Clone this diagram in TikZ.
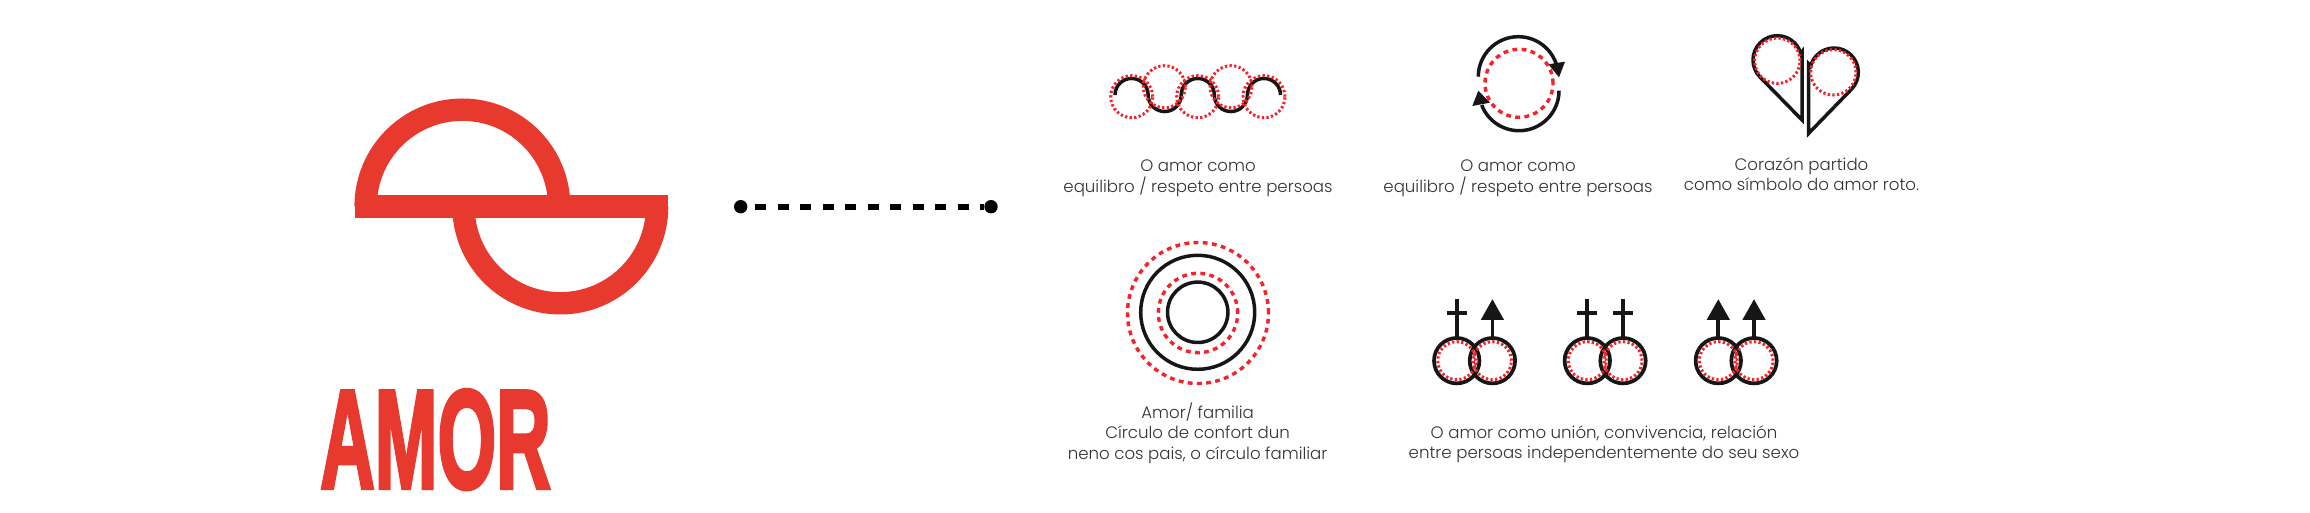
\documentclass[tikz,border=0pt]{standalone}
\usepackage{fontspec}
\setmainfont{Poppins Light}
\newfontfamily\amorfont[FakeBold=3]{Liberation Sans Bold}
\definecolor{logored}{HTML}{E8392F}
\definecolor{dotred}{HTML}{F5222A}
\definecolor{inkblack}{HTML}{161616}
\definecolor{txtgray}{HTML}{333333}
\tikzset{
  ink/.style={draw=inkblack,line width=1.75pt},
  reddots/.style={draw=dotred,line width=1.5pt,dash pattern=on 1.15pt off 1.15pt},
  reddash/.style={draw=dotred,line width=1.7pt,dash pattern=on 2.4pt off 2.2pt},
  caption/.style={text=txtgray,font=\fontsize{8.3pt}{10.2pt}\selectfont,align=center,inner sep=0pt},
  dotend/.style={circle,fill=black,minimum size=6.7pt,inner sep=0pt},
  logostroke/.style={draw=logored,line width=11.2pt},
}
\newcommand{\ringpair}[1]{%
  \draw[ink,line width=1.85pt] (#1,152.3) circle[radius=22.7];
  \draw[ink,line width=1.85pt] (#1+35.7,152.3) circle[radius=22.7];
  \draw[reddots] (#1,152.3) circle[radius=19];
  \draw[reddots] (#1+35.7,152.3) circle[radius=19];}
\newcommand{\crosssign}[1]{%
  \draw[ink,line width=1.85pt] (#1,175) -- (#1,214);
  \draw[ink,line width=1.85pt] (#1-10,200.3) -- (#1+10,200.3);}
\newcommand{\arrowsign}[1]{%
  \draw[ink,line width=1.85pt] (#1,175) -- (#1,195);
  \fill[inkblack] (#1,213.7) -- (#1-11.7,193) -- (#1+11.7,193) -- cycle;}
\begin{document}
\begin{tikzpicture}[x=0.5pt,y=0.5pt]
\useasboundingbox[fill=white] (0,0) rectangle (2310,513);
% logo
\draw[logostroke] (365.6,306.5) arc[start angle=180,end angle=0,radius=96.8];
\draw[logostroke] (463.5,306.5) arc[start angle=180,end angle=360,radius=96.8];
\fill[logored] (354.7,295.3) rectangle (668.3,317.7);
\node[inner sep=0pt,text=logored] (amor) at (435.5,73.4) {\resizebox{115.2pt}{49pt}{\amorfont AMOR}};
% connector
\node[dotend] (dotA) at (740.7,306.3) {};
\node[dotend] (dotB) at (991,306.3) {};
\draw[black,line width=3pt,dash pattern=on 5.5pt off 5.75pt,dash phase=7.45pt] (dotA) -- (dotB);
% wave icon
\draw[ink] (1115,418) arc[start angle=180,end angle=0,radius=16.55]
  arc[start angle=180,end angle=360,radius=16.55]
  arc[start angle=180,end angle=0,radius=16.55]
  arc[start angle=180,end angle=360,radius=16.55]
  arc[start angle=180,end angle=0,radius=16.55];
\foreach \cx in {1131.7,1197.7,1264} \draw[reddots] (\cx,416.3) circle[radius=21];
\foreach \cx in {1164.3,1231} \draw[reddots] (\cx,426.3) circle[radius=21];
% cycle icon
\draw[ink] (1478.3,436.3) arc[start angle=180,end angle=15,radius=40];
\draw[ink] (1559,422.3) arc[start angle=0,end angle=-159,radius=40];
\fill[inkblack] (1565,451.3) -- (1548.3,448.7) -- (1559,435.7) -- cycle;
\fill[inkblack] (1472.3,407) -- (1478.3,422.3) -- (1490,410.3) -- cycle;
\draw[reddash] (1519,429.7) circle[radius=34];
% heart icon
\draw[ink] (1802,393) -- (1760.1,435.8) arc[start angle=225,end angle=15,radius=24.3] -- (1802,461) -- cycle;
\draw[ink] (1808.7,379.7) -- (1851.2,423.5) arc[start angle=-45,end angle=165,radius=24.3] -- (1808.7,449) -- cycle;
\draw[reddots] (1777.3,452.3) circle[radius=22.7];
\draw[reddots] (1833.3,440.7) circle[radius=22.7];
% family icon
\draw[ink] (1197.7,200.7) circle[radius=57];
\draw[ink] (1197.7,200.7) circle[radius=30.2];
\draw[reddash] (1198,200) circle[radius=70.5];
\draw[reddash] (1198,200) circle[radius=39.7];
% gender icons
\ringpair{1456.7}\ringpair{1587.3}\ringpair{1718.3}
\crosssign{1456.7}\arrowsign{1492.4}
\crosssign{1587.3}\crosssign{1623}
\arrowsign{1718.3}\arrowsign{1754}
% captions
\node[caption] (c1) at (1198,334.8) {O amor como\\equilibro / respeto entre persoas};
\node[caption] (c2) at (1518,334.8) {O amor como\\equilibro / respeto entre persoas};
\node[caption] (c3) at (1801.5,338.8) {Corazón partido\\como símbolo do amor roto.};
\node[caption] (c4) at (1197.6,80) {Amor/ familia\\Círculo de confort dun\\neno cos pais, o círculo familiar};
\node[caption] (c5) at (1604,68.5) {O amor como unión, convivencia, relación\\entre persoas independentemente do seu sexo};
\end{tikzpicture}
\end{document}
